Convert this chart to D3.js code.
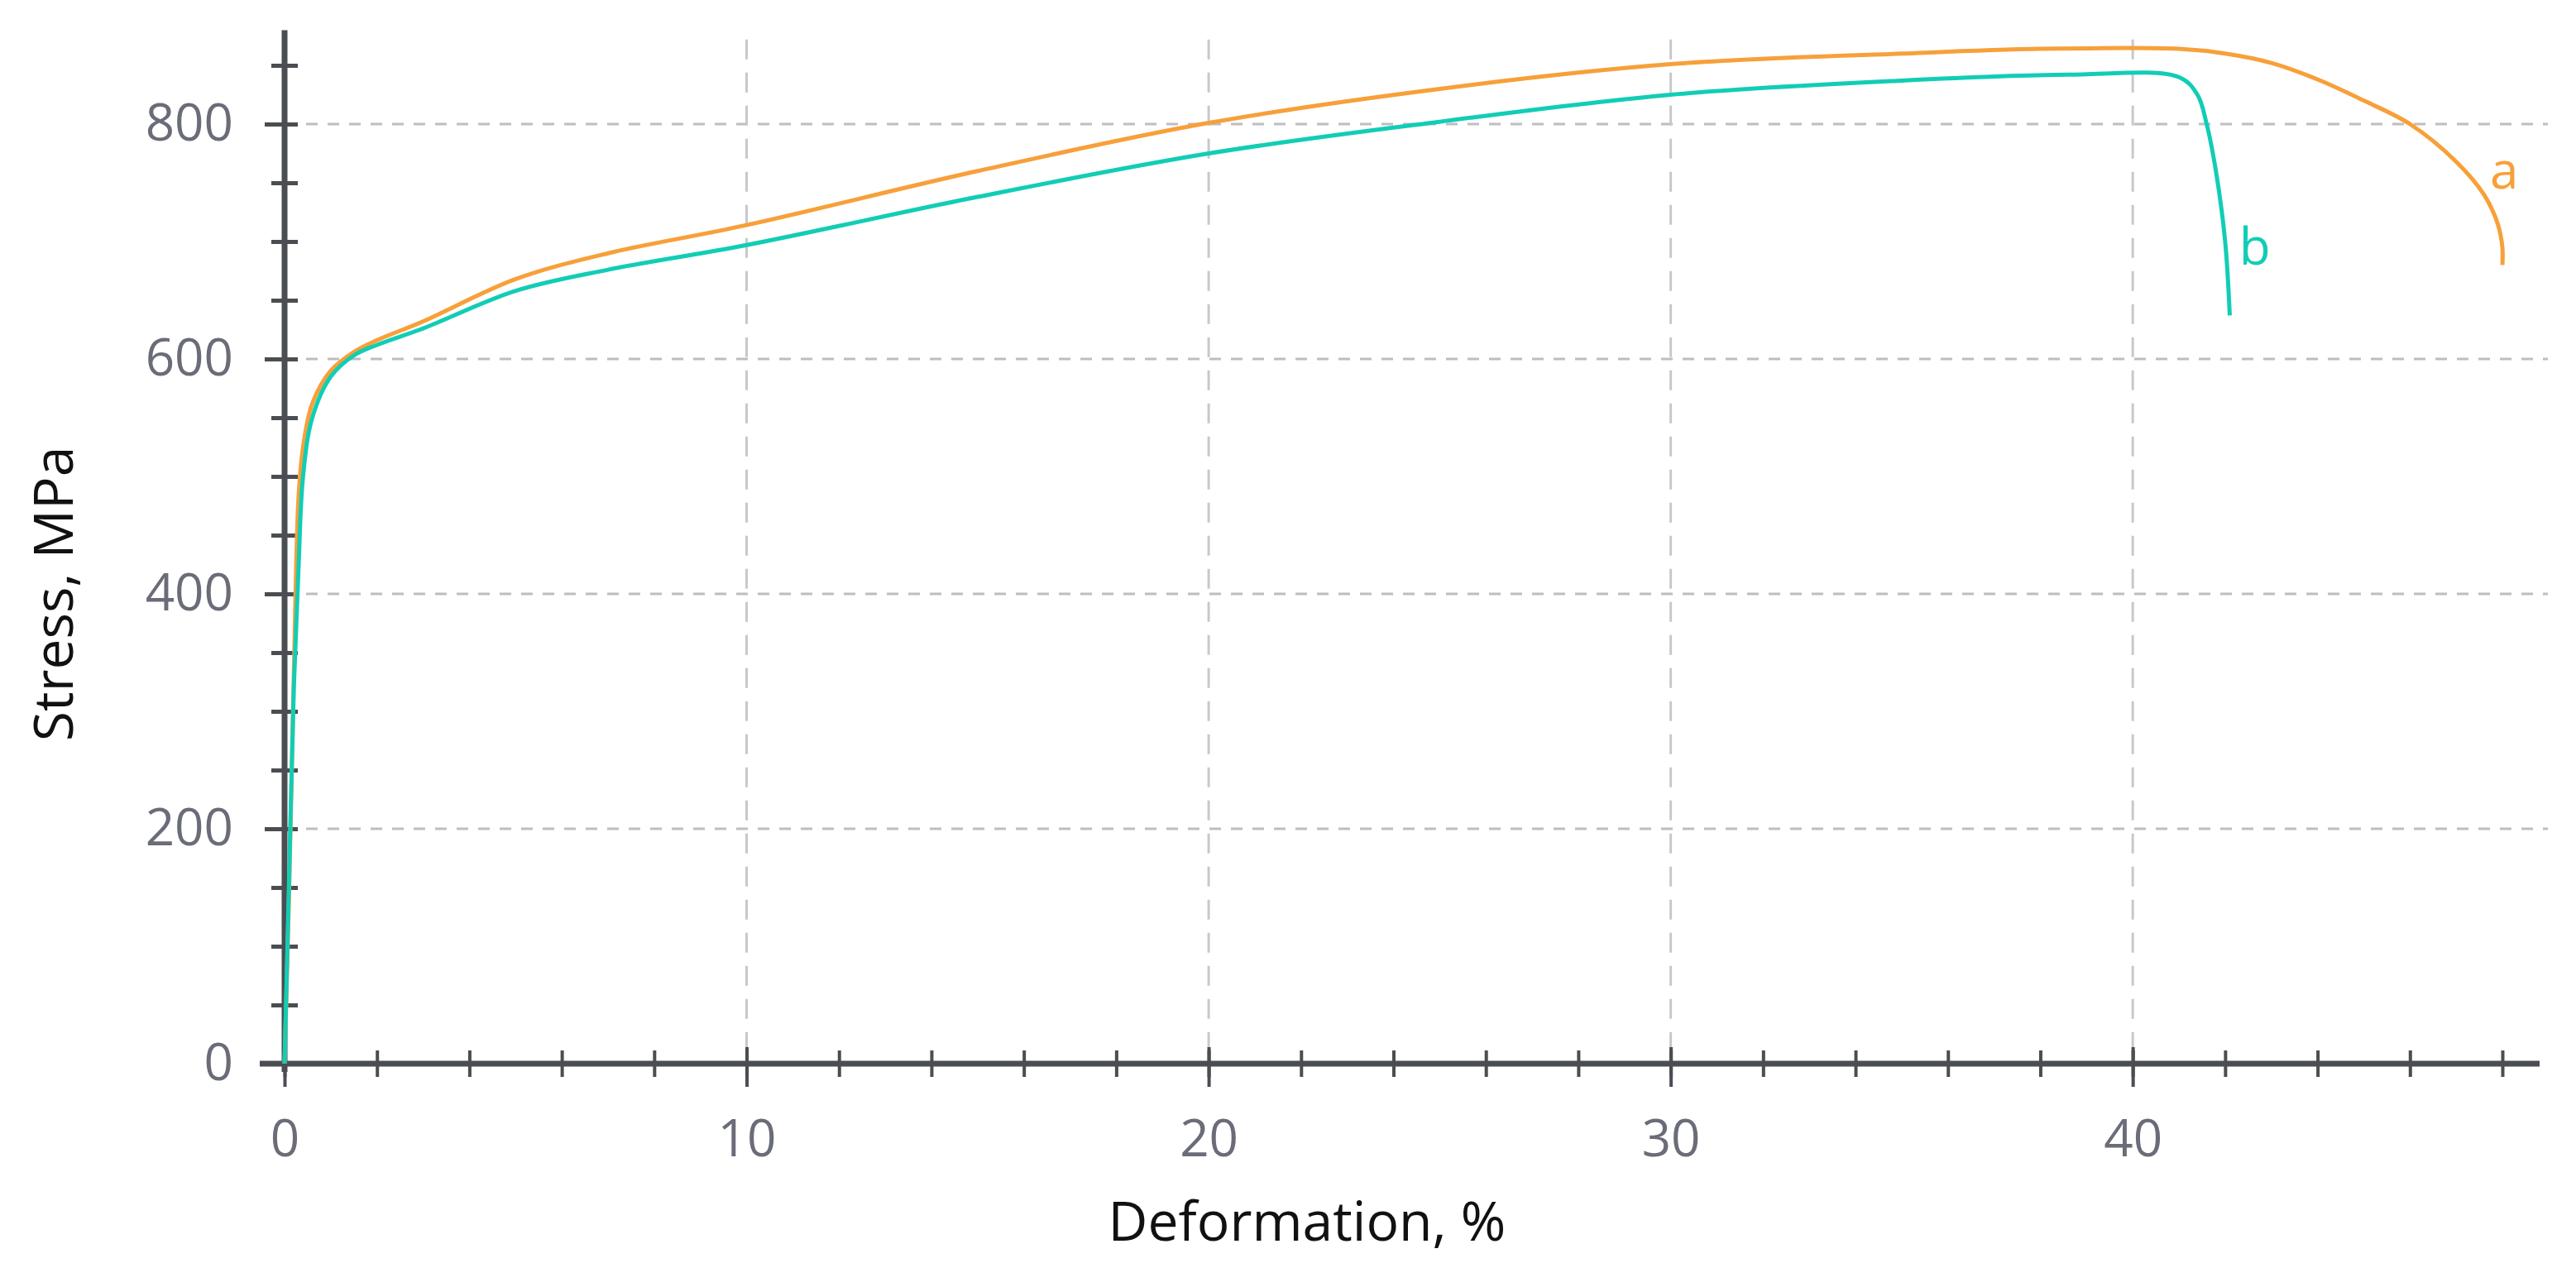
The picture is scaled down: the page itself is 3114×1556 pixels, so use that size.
<!DOCTYPE html>
<html lang="en">
<head>
<meta charset="UTF-8">
<title>Stress vs Deformation</title>
<style>
body { margin: 0; background: #fff; }
.tick text { font-family: "Open Sans", sans-serif; fill: #6a6c78; }
.axis path, .axis line { stroke: #4a4d52; }
</style>
</head>
<body>
<svg id="chart" width="3114" height="1556"></svg>
<script src="https://d3js.org/d3.v7.min.js"></script>
<script>
// curve a
var strainA = [0, 0.1, 0.2, 0.3, 0.4, 0.6, 1, 1.5, 2, 3, 5, 7, 10, 15, 20, 25, 30, 35, 38, 41, 42, 43, 44, 45, 46, 47, 47.6, 47.9, 48, 48];
var stressA = [0, 150, 330, 480, 525, 562, 590, 606, 616, 632, 668, 690, 714, 760, 801, 830, 851, 860, 864, 864, 860, 852, 838, 820, 800, 768, 740, 715, 695, 680];
// curve b
var strainB = [0, 0.1, 0.2, 0.3, 0.4, 0.6, 1, 1.5, 2, 3, 5, 7, 10, 15, 20, 25, 30, 35, 38.6, 41, 41.4, 41.6, 41.8, 42, 42.1];
var stressB = [0, 160, 320, 420, 500, 550, 585, 603, 612, 626, 658, 676, 697, 738, 775, 802, 825, 837, 842, 840, 825, 800, 760, 700, 637];
var xTicks = [0, 10, 20, 30, 40];
var yTicks = [0, 200, 400, 600, 800];

var svg = d3.select("#chart");
var x = d3.scaleLinear().domain([0, 48]).range([344, 3025]);
var y = d3.scaleLinear().domain([0, 800]).range([1286, 150]);

// grid
svg.append("g").selectAll("line").data(yTicks.slice(1)).enter().append("line")
  .attr("x1", x(0)).attr("x2", 3080).attr("y1", y).attr("y2", y)
  .attr("stroke", "#bdbdc2").attr("stroke-width", 3).attr("stroke-dasharray", "14,12");
svg.append("g").selectAll("line").data(xTicks.slice(1)).enter().append("line")
  .attr("y1", y(872)).attr("y2", y(0)).attr("x1", x).attr("x2", x)
  .attr("stroke", "#c8c8cc").attr("stroke-width", 3).attr("stroke-dasharray", "24,16");

// minor ticks
svg.append("g").attr("class", "axis").attr("transform", "translate(0," + y(0) + ")")
  .call(d3.axisBottom(x).tickValues(d3.range(0, 49, 2)).tickSize(16).tickFormat(""))
  .call(function(g) { g.select(".domain").remove(); g.selectAll("line").attr("y1", -16).attr("stroke-width", 4).attr("stroke", "#8a8b90"); });
svg.append("g").attr("class", "axis").attr("transform", "translate(" + x(0) + ",0)")
  .call(d3.axisLeft(y).tickValues(d3.range(50, 900, 50)).tickSize(16).tickFormat(""))
  .call(function(g) { g.select(".domain").remove(); g.selectAll("line").attr("x1", 16).attr("stroke-width", 5); });

// main axes
svg.append("g").attr("class", "axis").attr("transform", "translate(0," + y(0) + ")")
  .call(d3.axisBottom(x).tickValues(xTicks).tickSize(28).tickPadding(40))
  .call(function(g) {
    g.select(".domain").attr("d", "M" + (x(0) - 30) + ",0H3070").attr("stroke-width", 7);
    g.selectAll("line").attr("y1", -20).attr("stroke-width", 4);
    g.selectAll("text").attr("font-size", 62);
  });
svg.append("g").attr("class", "axis").attr("transform", "translate(" + x(0) + ",0)")
  .call(d3.axisLeft(y).tickValues(yTicks).tickSize(24).tickPadding(38))
  .call(function(g) {
    g.select(".domain").attr("d", "M0," + (y(0) + 10) + "V" + y(880)).attr("stroke-width", 7).attr("stroke", "#909095");
    g.selectAll("line").attr("stroke-width", 5);
    g.selectAll("text").attr("font-size", 62);
  });

// curves
var lineA = d3.line().curve(d3.curveCatmullRom.alpha(0.5)).x(function(d, i) { return x(strainA[i]); }).y(function(d) { return y(d); });
var lineB = d3.line().curve(d3.curveCatmullRom.alpha(0.5)).x(function(d, i) { return x(strainB[i]); }).y(function(d) { return y(d); });
svg.append("path").attr("d", lineA(stressA)).attr("fill", "none").attr("stroke", "#f7a03a").attr("stroke-width", 5);
svg.append("path").attr("d", lineB(stressB)).attr("fill", "none").attr("stroke", "#12cdb5").attr("stroke-width", 5);

// curve labels
svg.append("text").attr("x", x(48) - 15).attr("y", y(745)).attr("font-family", "Open Sans, sans-serif")
  .attr("font-size", 62).attr("fill", "#f7a03a").text("a");
svg.append("text").attr("x", x(42.3)).attr("y", y(680)).attr("font-family", "Open Sans, sans-serif")
  .attr("font-size", 62).attr("fill", "#12cdb5").text("b");

// axis titles
svg.append("text").attr("x", 1580).attr("y", 1500).attr("text-anchor", "middle")
  .attr("font-family", "Open Sans, sans-serif").attr("font-size", 66).attr("fill", "#111").text("Deformation, %");
svg.append("text").attr("transform", "translate(88," + y(400) + ") rotate(-90)").attr("text-anchor", "middle")
  .attr("font-family", "Open Sans, sans-serif").attr("font-size", 66).attr("fill", "#111").text("Stress, MPa");
</script>
</body>
</html>
